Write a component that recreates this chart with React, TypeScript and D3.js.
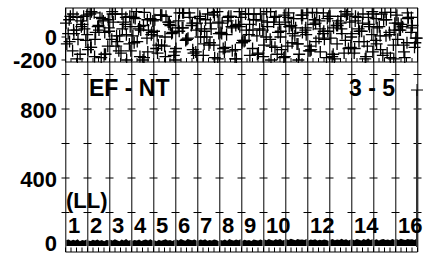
import { useEffect, useRef } from "react";
import * as d3 from "d3";

const W = 438;
const H = 255;

// segment labels along the bottom (11, 13, 15 are dropped in the original)
const segmentLabels = ["1", "2", "3", "4", "5", "6", "7", "8", "9", "10", "11", "12", "13", "14", "15", "16"];
const hiddenLabels = ["11", "13", "15"];

const topTickValues = [0, -200];
const bottomTickValues = [0, 400, 800];
const gridTickValues = [200, 400, 600, 800, 1000];

// upper panel: scattered "+" markers
const scatterA = [
  120, -40, 200, 60, -150, 180, 20, -90, 210, 90, -180, 40, 150, -20, 200, -120, 70, 170, -60, 10,
  220, -170, 100, -10, 160, 50, -140, 190, -80, 130, 30, -200, 140, 80, -30, 210, -110, 60, 180, -160,
  0, 120, -70, 220, 40, -130, 170, 90, -190, 110, -50, 200, 20, -100, 150, 70, -170, 220, -20, 130,
  -150, 50, 190, -80, 100, 10, -200, 160, 60, -120, 215, -40, 140, 30, -180, 180, 80, -60, 120, -140,
  200, 0, -100, 170, 50, -190, 110, 220, -30, 90, -160, 150, 20, -70, 190, 60, -130, 210, 40, -90,
];
const scatterB = [
  -60, 180, 30, -190, 140, 70, -110, 220, -20, 100, 160, -150, 50, 200, -80, 10, 130, -200, 90, 170,
  -40, 60, 215, -130, 20, 150, -70, 190, -170, 110, 40, -100, 210, 80, -20, 170, -140, 120, 0, -60,
  200, 70, -180, 130, 30, -90, 180, -120, 100, 220, -30, 60, -160, 150, 10, 200, -70, 90, -200, 170,
  40, -110, 130, 210, -50, 80, -150, 190, 20, -80, 110, 210, -130, 50, 160, -10, -190, 140, 70, 220,
  -100, 30, 180, -40, 120, -170, 90, 200, -60, 10, 150, -140, 215, 60, -20, 110, -180, 170, 80, -50,
];
const scatterC = [
  30, -120, 170, 90, -30, 200, -170, 60, 140, -80, 220, 10, -140, 110, 180, -50, 70, -200, 150, 40,
  -100, 190, 0, 130, -160, 80, 210, -20, 100, -130, 160, 50, -70, 215, -190, 120, 20, 180, -110, 90,
  -40, 200, 60, -150, 140, 0, 220, -90, 110, -180, 170, 30, -60, 190, 80, -120, 150, -10, 210, 50,
  -170, 100, 180, -30, 130, -140, 70, 200, -80, 20, 160, -110, 215, 40, -190, 120, 90, -50, 170, -10,
];
const scatterD = [
  150, 60, -20, 110, 190, -90, 40, 170, -150, 80, 130, -40, 200, 20, -120, 160, 90, -180, 60, 140,
  10, -70, 180, 100, -130, 50, 210, -10, 120, -160, 70, 150, -50, 190, 30, -100, 140, 80, -190, 170,
  -30, 110, 200, -140, 60, 130, -80, 180, 0, -170, 90, 160, -60, 40, 210, -110, 120, 70, -20, 180,
  -150, 100, 30, 190, -90, 140, 50, -40, 170, -130, 80, 200, 10, -180, 120, 60, -70, 160, 100, -10,
];

// lower panel: upper envelope of the low trace, 10 samples per segment
const traceTop = [
  40, 44, 36, 42, 38, 45, 34, 41, 37, 43,
  38, 35, 42, 37, 44, 36, 40, 33, 41, 39,
  42, 37, 45, 39, 34, 43, 38, 46, 36, 40,
  36, 41, 38, 44, 35, 40, 43, 37, 45, 38,
  39, 34, 42, 36, 41, 45, 37, 40, 35, 42,
  44, 38, 47, 40, 36, 46, 42, 39, 44, 37,
  37, 43, 39, 45, 36, 41, 38, 44, 40, 35,
  41, 38, 44, 36, 46, 40, 37, 43, 39, 45,
  36, 42, 38, 40, 35, 43, 41, 37, 44, 39,
  43, 39, 46, 41, 37, 45, 40, 47, 38, 42,
  45, 40, 48, 43, 39, 47, 42, 44, 40, 46,
  38, 43, 40, 45, 37, 42, 39, 44, 41, 36,
  42, 46, 39, 44, 41, 48, 40, 45, 38, 43,
  44, 39, 47, 42, 38, 46, 41, 49, 40, 45,
  40, 45, 38, 43, 47, 41, 44, 39, 46, 42,
  46, 41, 48, 44, 40, 47, 43, 45, 41, 48,
];

const spikeValue = 910;

const font = "Arial, 'Liberation Sans', sans-serif";
const fontSize = 22;

const App = () => {
  const svgRef = useRef<SVGSVGElement>(null);

  useEffect(() => {
    if (!svgRef.current) return;
    const svg = d3.select(svgRef.current);
    svg.selectAll("*").remove();

    const left = 65.5;
    const right = 417.5;
    const topY0 = 8;
    const topY1 = 62;
    const botY1 = 252;

    const x = d3.scaleLinear().domain([0, segmentLabels.length]).range([left, right]);
    const yTop = d3.scaleLinear().domain([-200, 0]).range([60, 37]);
    const yBot = d3.scaleLinear().domain([0, 800]).range([247, 109]);

    svg.append("rect").attr("width", W).attr("height", H).attr("fill", "white");

    svg
      .append("defs")
      .append("clipPath")
      .attr("id", "topClip")
      .append("rect")
      .attr("x", left - 8)
      .attr("y", topY0)
      .attr("width", right - left + 16)
      .attr("height", topY1 - topY0 + 1);

    // scatter in the upper panel
    const cross = "M-6,0H6M0,-6V6";
    const scat = svg.append("g").attr("clip-path", "url(#topClip)");
    [scatterA, scatterB, scatterC, scatterD].forEach((series, si) => {
      const n = series.length;
      scat
        .selectAll(null)
        .data(series)
        .enter()
        .append("path")
        .attr("d", cross)
        .attr("transform", (d, i) => `translate(${x(((i + 0.15 + si * 0.23) / n) * 16)},${yTop(d)})`)
        .attr("fill", "none")
        .attr("stroke", "black")
        .attr("stroke-width", 1.3);
    });

    // upper panel frame
    svg
      .append("rect")
      .attr("x", left)
      .attr("y", topY0)
      .attr("width", right - left)
      .attr("height", topY1 - topY0)
      .attr("fill", "none")
      .attr("stroke", "black");

    // minor ticks on the panel separator and on the bottom axis
    const minor = d3.range(0, segmentLabels.length + 0.01, 0.25);
    svg
      .selectAll(null)
      .data(minor)
      .enter()
      .append("line")
      .attr("x1", (d) => x(d))
      .attr("x2", (d) => x(d))
      .attr("y1", topY1 - 4)
      .attr("y2", topY1)
      .attr("stroke", "black");
    svg
      .selectAll(null)
      .data(minor)
      .enter()
      .append("line")
      .attr("x1", (d) => x(d))
      .attr("x2", (d) => x(d))
      .attr("y1", botY1 - 4.5)
      .attr("y2", botY1)
      .attr("stroke", "black");
    svg
      .append("line")
      .attr("x1", left)
      .attr("x2", right)
      .attr("y1", botY1)
      .attr("y2", botY1)
      .attr("stroke", "black");

    // segment dividers with tick crosses
    const dividers = d3.range(0, segmentLabels.length + 1);
    svg
      .selectAll(null)
      .data(dividers)
      .enter()
      .append("line")
      .attr("x1", (d) => x(d) + 0.3)
      .attr("x2", (d) => x(d) + 0.3)
      .attr("y1", topY0)
      .attr("y2", botY1)
      .attr("stroke", "black");
    dividers.forEach((d) => {
      svg
        .selectAll(null)
        .data(gridTickValues)
        .enter()
        .append("line")
        .attr("x1", x(d) - 4)
        .attr("x2", x(d) + 4)
        .attr("y1", (v) => yBot(v))
        .attr("y2", (v) => yBot(v))
        .attr("stroke", "black");
    });

    // low trace in each segment
    const area = d3
      .area<[number, number]>()
      .x((p) => p[0])
      .y0(yBot(6))
      .y1((p) => yBot(p[1]));
    segmentLabels.forEach((_, s) => {
      const vals = traceTop.slice(s * 10, s * 10 + 10);
      const pts = vals.map((v, i) => [x(s + 0.04 + (i / 9) * 0.92), v] as [number, number]);
      svg.append("path").attr("d", area(pts)).attr("fill", "black");
    });

    // spike at the right end
    svg
      .append("line")
      .attr("x1", x(16) - 0.5)
      .attr("x2", x(16) - 0.5)
      .attr("y1", yBot(spikeValue))
      .attr("y2", yBot(0))
      .attr("stroke", "#333")
      .attr("stroke-width", 2);
    svg
      .append("path")
      .attr("d", cross)
      .attr("transform", `translate(${x(16) - 0.5},${yBot(spikeValue)})`)
      .attr("stroke", "black");

    // y axis ticks & labels
    svg
      .selectAll(null)
      .data(topTickValues)
      .enter()
      .append("line")
      .attr("x1", left - 4)
      .attr("x2", left)
      .attr("y1", (v) => yTop(v))
      .attr("y2", (v) => yTop(v))
      .attr("stroke", "black");
    const labelStyle = (sel: any) =>
      sel
        .attr("x", 57)
        .attr("text-anchor", "end")
        .attr("font-family", font)
        .attr("font-weight", "bold")
        .attr("font-size", fontSize)
        .attr("fill", "black")
        .text((v: number) => String(v));
    svg
      .selectAll(null)
      .data(topTickValues)
      .enter()
      .append("text")
      .attr("y", (v) => yTop(v) + 8)
      .call(labelStyle);
    svg
      .selectAll(null)
      .data(bottomTickValues)
      .enter()
      .append("text")
      .attr("y", (v) => Math.min(yBot(v) + 9, 251))
      .call(labelStyle);

    // segment numbers
    svg
      .selectAll(null)
      .data(segmentLabels.map((l, i) => ({ l, i })).filter((d) => !hiddenLabels.includes(d.l)))
      .enter()
      .append("text")
      .attr("x", (d) => x(d.i) + 2.5)
      .attr("y", 233)
      .attr("font-family", font)
      .attr("font-weight", "bold")
      .attr("font-size", fontSize)
      .text((d) => d.l);

    const note = (t: string, px: number, py: number, size: number) =>
      svg
        .append("text")
        .attr("x", px)
        .attr("y", py)
        .attr("font-family", font)
        .attr("font-weight", "bold")
        .attr("font-size", size)
        .text(t);
    note("(LL)", 66, 208, fontSize);
    note("EF - NT", 89, 96, 23);
    note("3 - 5", 349, 96, 23);
  }, []);

  return (
    <svg
      ref={svgRef}
      width={W}
      height={H}
      style={{ position: "absolute", left: 0, top: 0, display: "block" }}
    />
  );
};

export default App;
